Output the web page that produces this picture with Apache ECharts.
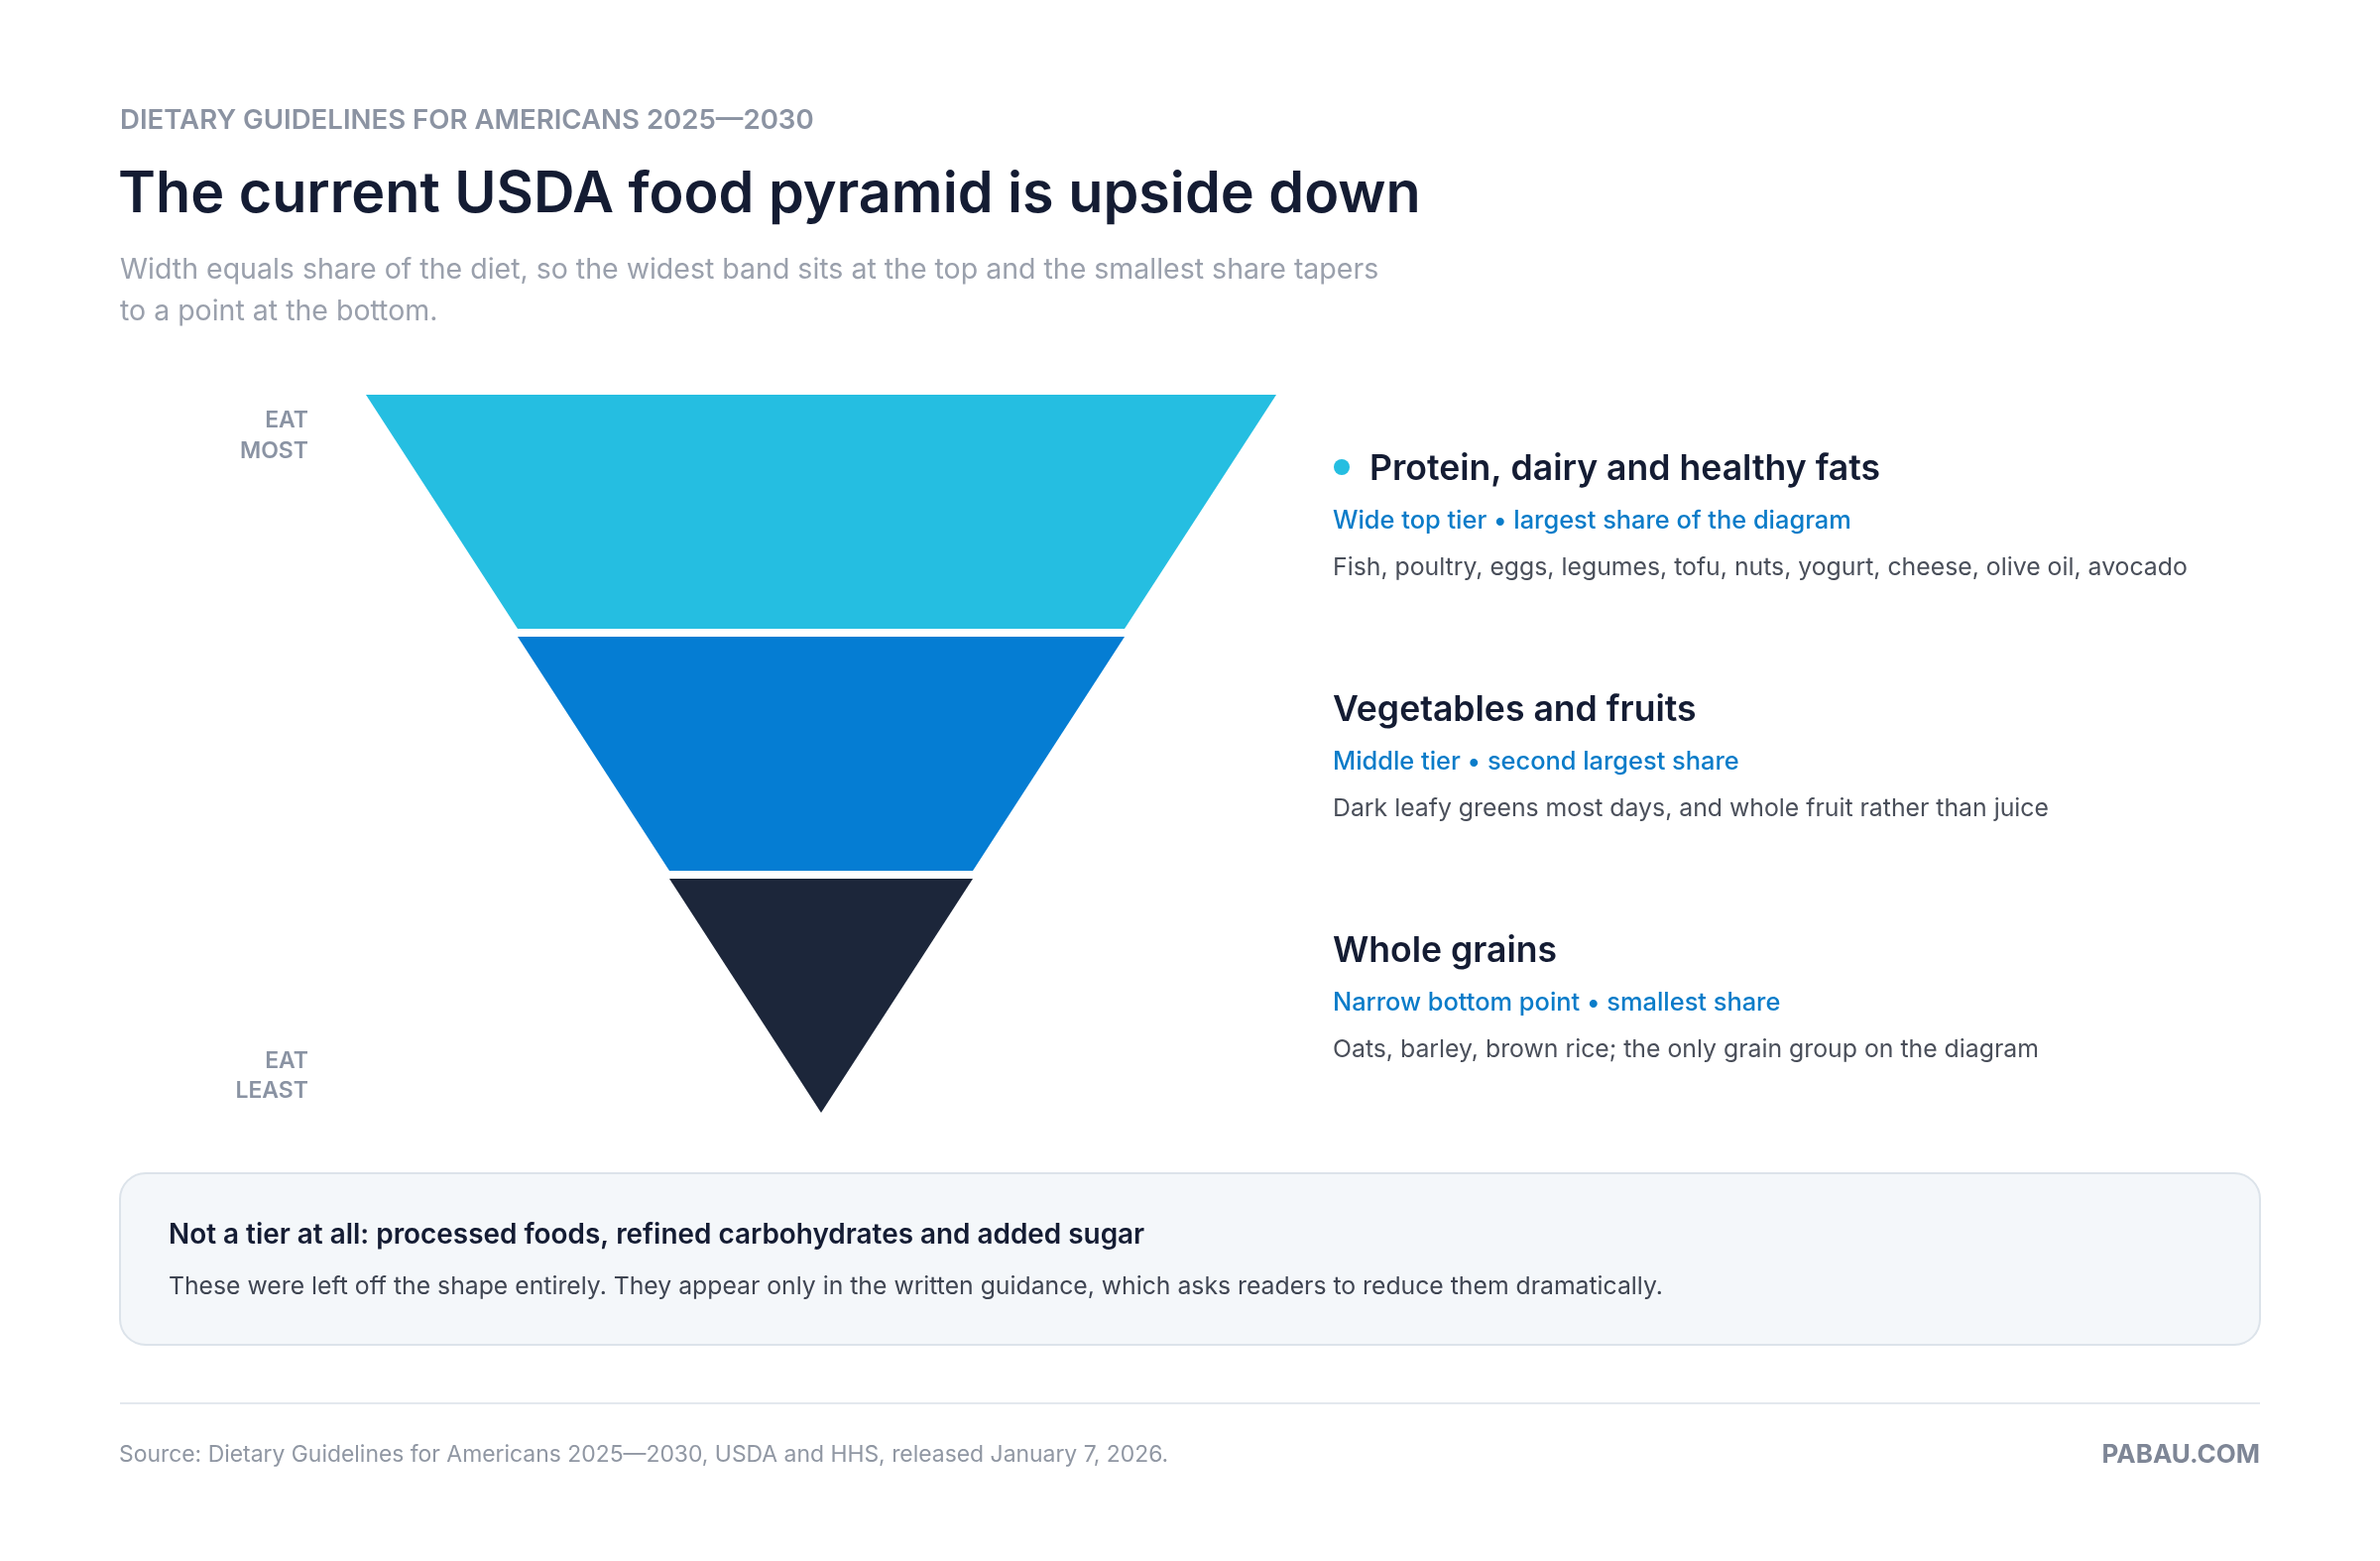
<!DOCTYPE html>
<html>
<head>
<meta charset="utf-8">
<script src="https://cdn.jsdelivr.net/npm/echarts@6/dist/echarts.min.js"></script>
<style>
html,body{margin:0;padding:0;background:#fff;}
#chart{width:2400px;height:1574px;}
</style>
</head>
<body>
<div id="chart"></div>
<script>
// tiers, top to bottom
var tierNames=['Protein, dairy and healthy fats','Vegetables and fruits','Whole grains'];
var tierShares=[3,2,1];
var tierNotes=['Wide top tier \u2022 largest share of the diagram','Middle tier \u2022 second largest share','Narrow bottom point \u2022 smallest share'];
var tierFoods=['Fish, poultry, eggs, legumes, tofu, nuts, yogurt, cheese, olive oil, avocado','Dark leafy greens most days, and whole fruit rather than juice','Oats, barley, brown rice; the only grain group on the diagram'];
var tierColors=['#25BEE1','#057DD3','#1C263A'];

var FONT='Inter, "Noto Sans", sans-serif';
var mychart=echarts.init(document.getElementById('chart'),null,{renderer:'canvas'});

function txt(x,y,s,size,weight,color,align){
	return {type:'text',x:x,y:y+3,style:{text:s,fontFamily:FONT,fontSize:size,fontWeight:weight,fill:color,align:align||'left',verticalAlign:'middle'}};
}

var graphics=[
	txt(121,119,'DIETARY GUIDELINES FOR AMERICANS 2025\u20142030',27.6,600,'#8B93A2'),
	txt(119,194,'The current USDA food pyramid is upside down',57.5,600,'#141C33'),
	txt(121,269,'Width equals share of the diet, so the widest band sits at the top and the smallest share tapers',28.5,400,'#9AA0AC'),
	txt(121,311,'to a point at the bottom.',28.5,400,'#9AA0AC'),
	txt(311,421,'EAT',23,600,'#8A93A3','right'),
	txt(311,452,'MOST',23,600,'#8A93A3','right'),
	txt(311,1067,'EAT',23,600,'#8A93A3','right'),
	txt(311,1097,'LEAST',23,600,'#8A93A3','right'),
	{type:'rect',shape:{x:121,y:1183,width:2158,height:173,r:26},style:{fill:'#F4F7FA',stroke:'#DCE3EA',lineWidth:2}},
	txt(170,1243,'Not a tier at all: processed foods, refined carbohydrates and added sugar',27.9,600,'#141C33'),
	txt(170,1295,'These were left off the shape entirely. They appear only in the written guidance, which asks readers to reduce them dramatically.',24.75,400,'#3F4552'),
	{type:'rect',shape:{x:121,y:1414,width:2158,height:2},style:{fill:'#E3E8EE'}},
	txt(120,1464,'Source: Dietary Guidelines for Americans 2025\u20142030, USDA and HHS, released January 7, 2026.',22.9,400,'#9097A3'),
	txt(2279,1464,'PABAU.COM',26,700,'#7E8696','right')
];

// right-hand descriptions, one block per tier
for(var i=0;i<tierNames.length;i++){
	var y0=470+i*243;
	var hx=1344;
	if(i===0){
		graphics.push({type:'circle',shape:{cx:1353,cy:y0+1,r:8},style:{fill:tierColors[0]}});
		hx=1381;
	}
	graphics.push(txt(hx,y0,tierNames[i],35.6,600,'#141C33'));
	graphics.push(txt(1344,y0+52,tierNotes[i],25.4,500,'#0A7CC9'));
	graphics.push(txt(1344,y0+100,tierFoods[i],24.8,400,'#4A4F5A'));
}

var data=tierNames.map(function(n,i){
	return {name:n,value:tierShares[i],itemStyle:{color:tierColors[i]}};
});

var option={
	backgroundColor:'#fff',
	animation:false,
	graphic:graphics,
	series:[
		{
			type:'funnel',
			left:369,
			top:398,
			width:918,
			height:724,
			min:0,
			max:3,
			minSize:'0%',
			maxSize:'100%',
			sort:'descending',
			gap:8,
			label:{show:false},
			labelLine:{show:false},
			itemStyle:{borderWidth:0},
			emphasis:{disabled:true},
			data:data
		}
	]
};
mychart.setOption(option);
</script>
</body>
</html>
